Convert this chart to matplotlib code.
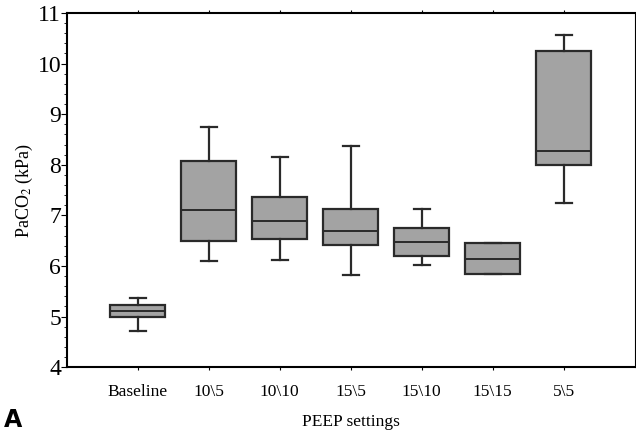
import matplotlib
matplotlib.use('Agg')
from matplotlib import pyplot as plt
from matplotlib.ticker import MultipleLocator

# PaCO2 box plot by PEEP setting
labels = ['Baseline', '10\\5', '10\\10', '15\\5', '15\\10', '15\\15', '5\\5']
whis_lo = [4.72, 6.10, 6.12, 5.82, 6.01, 5.85, 7.25]
q1 = [4.99, 6.49, 6.54, 6.42, 6.20, 5.85, 8.00]
med = [5.12, 7.10, 6.89, 6.69, 6.47, 6.14, 8.27]
q3 = [5.23, 8.08, 7.36, 7.12, 6.75, 6.45, 10.24]
whis_hi = [5.36, 8.75, 8.16, 8.38, 7.13, 6.45, 10.57]

stats = []
for i in range(len(labels)):
    stats.append({'label': labels[i], 'whislo': whis_lo[i], 'q1': q1[i],
                  'med': med[i], 'q3': q3[i], 'whishi': whis_hi[i]})

plt.rcParams['font.family'] = ['Liberation Serif', 'DejaVu Serif']
plt.rcParams['mathtext.fontset'] = 'stix'

fig = plt.figure(figsize=(6.36, 4.32), dpi=100)
ax = fig.add_axes([0.105, 0.150, 0.893, 0.820])

dark = '#2a2a2a'
ax.bxp(stats, positions=range(1, len(labels) + 1), widths=0.78,
       showfliers=False, patch_artist=True,
       boxprops=dict(facecolor='#a3a3a3', edgecolor=dark, linewidth=1.6),
       medianprops=dict(color=dark, linewidth=1.4),
       whiskerprops=dict(color=dark, linewidth=1.6),
       capprops=dict(color=dark, linewidth=1.6), capwidths=0.23)

ax.set_xlim(0, 8)
ax.set_ylim(4, 11)
ax.yaxis.set_major_locator(MultipleLocator(1))
ax.yaxis.set_minor_locator(MultipleLocator(0.2))
ax.tick_params(axis='y', which='major', direction='out', length=4, labelsize=17, pad=0)
ax.tick_params(axis='y', which='minor', direction='out', length=2)
ax.tick_params(axis='x', which='major', direction='out', length=2, labelsize=12.5,
               pad=10, top=True)
ax.set_xticks(range(1, len(labels) + 1))
ax.set_xticklabels(labels)

for side in ['left', 'bottom', 'top']:
    ax.spines[side].set_linewidth(1.5)
ax.spines['right'].set_linewidth(0.8)

ax.set_ylabel('PaCO$_2$ (kPa)', fontsize=13, labelpad=2)
ax.set_xlabel('PEEP settings', fontsize=12.5, labelpad=10)
fig.text(0.006, 0.012, 'A', fontsize=17, fontweight='bold', family='DejaVu Sans')

fig.savefig('out.png', dpi=100)
